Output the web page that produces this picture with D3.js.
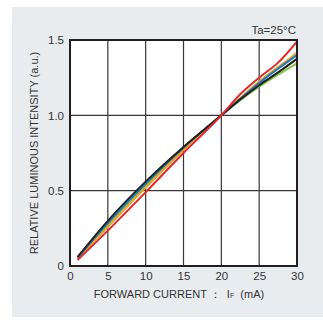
<!DOCTYPE html>
<html><head><meta charset="utf-8">
<script src="https://cdn.jsdelivr.net/npm/d3@7"></script>
<style>body{margin:0;background:#fff;}svg{display:block;font-family:"Liberation Sans",Arial,sans-serif;}text{white-space:pre;}</style>
</head><body><svg id="c" width="323" height="320"></svg>
<script>
const xTicks=[0,5,10,15,20,25,30];
const yTicks=[0,0.5,1.0,1.5];
const yTickLabels=["0","0.5","1.0","1.5"];
const current=[1,5,10,15,20,22.5,25,27.5,30];
const green=[0.05,0.27,0.53,0.775,1.0,1.1,1.19,1.27,1.345];
const black=[0.06,0.30,0.56,0.79,1.0,1.105,1.2,1.285,1.375];
const blue=[0.055,0.285,0.545,0.785,1.0,1.11,1.215,1.31,1.40];
const orange=[0.05,0.26,0.52,0.77,1.0,1.115,1.225,1.32,1.415];
const red=[0.04,0.235,0.49,0.75,1.0,1.14,1.25,1.35,1.49];
const series=[{c:"#84c341",v:green},{c:"#f0a41e",v:orange},{c:"#1b78be",v:blue},{c:"#231f20",v:black},{c:"#e52629",v:red}];

const svg=d3.select("#c");
svg.append("rect").attr("x",12).attr("y",7).attr("width",311).attr("height",310).attr("fill","#e9ecef");
const L=70,R=297,T=40,B=266;
const x=d3.scaleLinear().domain([0,30]).range([L,R]);
const y=d3.scaleLinear().domain([0,1.5]).range([B,T]);
svg.append("rect").attr("x",L).attr("y",T).attr("width",R-L).attr("height",B-T).attr("fill","#fff");
const g=svg.append("g");
g.selectAll(".vx").data(xTicks.slice(1,-1)).enter().append("line")
 .attr("x1",d=>x(d)).attr("x2",d=>x(d)).attr("y1",T).attr("y2",B).attr("stroke","#3a3536").attr("stroke-width",1.2);
g.selectAll(".hy").data(yTicks.slice(1,-1)).enter().append("line")
 .attr("y1",d=>y(d)).attr("y2",d=>y(d)).attr("x1",L).attr("x2",R).attr("stroke","#3a3536").attr("stroke-width",1.2);
const line=d3.line().x((d,i)=>x(current[i])).y(d=>y(d)).curve(d3.curveMonotoneX);
series.forEach(s=>{
 svg.append("path").attr("d",line(s.v)).attr("fill","none").attr("stroke",s.c).attr("stroke-width",2);
});
svg.append("rect").attr("x",L).attr("y",T).attr("width",R-L).attr("height",B-T).attr("fill","none").attr("stroke","#231f20").attr("stroke-width",2);

const xa=d3.axisBottom(x).tickValues(xTicks).tickSize(0).tickPadding(6);
const xg=svg.append("g").attr("transform",`translate(0,${B})`).call(xa);
xg.select(".domain").remove();
xg.selectAll("text").attr("font-size",11.5).attr("fill","#333").attr("font-family","Liberation Sans, Arial, sans-serif");
const ya=d3.axisLeft(y).tickValues(yTicks).tickFormat((d,i)=>yTickLabels[i]).tickSize(0).tickPadding(6);
const yg=svg.append("g").attr("transform",`translate(${L},0)`).call(ya);
yg.select(".domain").remove();
yg.selectAll("text").attr("font-size",11.5).attr("fill","#333").attr("font-family","Liberation Sans, Arial, sans-serif");

const xt=svg.append("text").attr("x",179).attr("y",298).attr("text-anchor","middle").attr("font-size",11).attr("fill","#333");
xt.append("tspan").text("FORWARD CURRENT ：  I");
xt.append("tspan").attr("font-size",7).text("F");
xt.append("tspan").text("  (mA)");
svg.append("text").attr("transform","translate(38,153) rotate(-90)").attr("text-anchor","middle").attr("font-size",11).attr("fill","#333").text("RELATIVE LUMINOUS INTENSITY (a.u.)");
svg.append("text").attr("x",296).attr("y",34).attr("text-anchor","end").attr("font-size",11.5).attr("fill","#333").text("Ta=25°C");
</script></body></html>
